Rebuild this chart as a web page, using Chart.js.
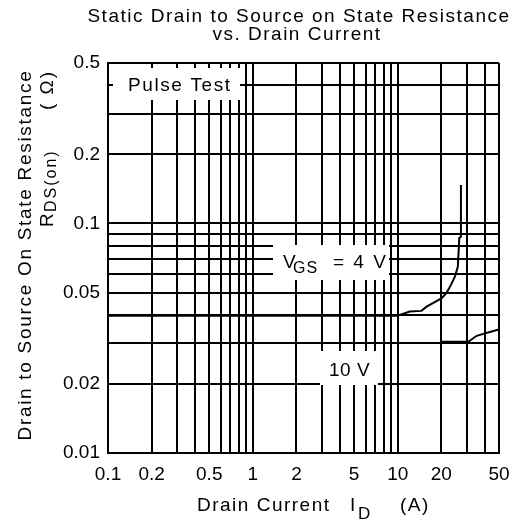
<!DOCTYPE html>
<html>
<head>
<meta charset="utf-8">
<script src="https://cdn.jsdelivr.net/npm/chart.js@4.4.1/dist/chart.umd.min.js"></script>
<style>
  html, body { margin: 0; padding: 0; background: #fff; }
</style>
</head>
<body>
<canvas id="chart" width="520" height="527"></canvas>
<script>
// grid lines (every 1..9 per decade) and the values that get a label
const currentGrid = [0.1, 0.2, 0.3, 0.4, 0.5, 0.6, 0.7, 0.8, 0.9, 1, 2, 3, 4, 5, 6, 7, 8, 9, 10, 20, 30, 40, 50];
const currentLabels = ['0.1', '0.2', '0.5', '1', '2', '5', '10', '20', '50'];
const resistanceGrid = [0.01, 0.02, 0.03, 0.04, 0.05, 0.06, 0.07, 0.08, 0.09, 0.1, 0.2, 0.3, 0.4, 0.5];
const resistanceLabels = ['0.01', '0.02', '0.05', '0.1', '0.2', '0.5'];

// VGS = 4 V
const vgs4Current = [0.1, 10, 12.1, 14.6, 15.8, 17.5, 20.1, 21.7, 23.3, 24.8, 26.0, 26.6, 27.3, 27.3];
const vgs4Resistance = [0.0396, 0.0396, 0.0413, 0.0416, 0.0434, 0.045, 0.0473, 0.0498, 0.054, 0.0587, 0.0648, 0.0865, 0.0875, 0.147];

// VGS = 10 V
const vgs10Current = [20.1, 30.7, 35.1, 40, 44.5, 50];
const vgs10Resistance = [0.0305, 0.0305, 0.0324, 0.0332, 0.0338, 0.0345];

const FONT = '"Liberation Sans", Arial, Helvetica, sans-serif';
const INK = '#000';

const toPoints = (xs, ys) => xs.map((x, i) => ({ x, y: ys[i] }));

function put(ctx, text, x, y, size, spacing = 0, align = 'left') {
  ctx.font = `${size}px ${FONT}`;
  ctx.letterSpacing = `${spacing}px`;
  ctx.textAlign = align;
  ctx.fillText(text, x, y);
  return x + ctx.measureText(text).width;
}

function whiteBox(ctx, x1, y1, x2, y2) {
  ctx.fillStyle = '#fff';
  ctx.fillRect(x1, y1, x2 - x1, y2 - y1);
  ctx.fillStyle = INK;
}

const sheetText = {
  id: 'sheetText',
  afterDraw(chart) {
    const { ctx } = chart;
    ctx.save();
    ctx.fillStyle = INK;
    ctx.textBaseline = 'alphabetic';

    // title
    put(ctx, 'Static Drain to Source on State Resistance', 299, 22, 19, 1.5, 'center');
    put(ctx, 'vs. Drain Current', 297, 40, 19, 1.5, 'center');

    // x axis title
    put(ctx, 'Drain Current', 197, 511, 19, 1.5);
    put(ctx, 'I', 350, 511, 19);
    put(ctx, 'D', 358, 519, 17);
    put(ctx, '(A)', 400, 511, 19, 1.5);

    // y axis title, two rotated lines
    ctx.save();
    ctx.translate(31, 255);
    ctx.rotate(-Math.PI / 2);
    put(ctx, 'Drain to Source On State Resistance', 0, 0, 19, 1.7, 'center');
    ctx.restore();

    ctx.save();
    ctx.translate(53, 227);
    ctx.rotate(-Math.PI / 2);
    put(ctx, 'R', 0, 0, 19);
    put(ctx, 'DS(on)', 15, 3, 16, 2);
    put(ctx, '( \u03A9)', 117, 0, 19, 2);
    ctx.restore();

    // annotations with blanked grid behind them
    whiteBox(ctx, 113, 68, 240, 100);
    put(ctx, 'Pulse Test', 128, 91, 19, 1.6);

    whiteBox(ctx, 273, 245, 389, 280);
    put(ctx, 'V', 283, 268, 19);
    put(ctx, 'GS', 293, 273, 16, 1);
    put(ctx, '= 4 V', 333, 268, 19, 2);

    whiteBox(ctx, 320, 351, 378, 385);
    put(ctx, '10 V', 329, 376, 19, 0.5);

    ctx.restore();
  }
};

const axisBase = {
  type: 'logarithmic',
  border: { display: true, color: INK, width: 2 },
  grid: { color: INK, lineWidth: 2, drawTicks: false },
};

new Chart(document.getElementById('chart'), {
  type: 'line',
  data: {
    datasets: [
      {
        label: 'VGS = 4 V',
        data: toPoints(vgs4Current, vgs4Resistance),
        borderColor: INK,
        borderWidth: 2,
        pointRadius: 0,
        tension: 0,
      },
      {
        label: 'VGS = 10 V',
        data: toPoints(vgs10Current, vgs10Resistance),
        borderColor: INK,
        borderWidth: 2,
        pointRadius: 0,
        tension: 0,
      },
    ],
  },
  options: {
    responsive: false,
    animation: false,
    events: [],
    layout: { padding: { top: 63, right: 21, left: 0, bottom: 0 } },
    plugins: { legend: { display: false }, tooltip: { enabled: false }, title: { display: false } },
    scales: {
      x: {
        ...axisBase,
        min: 0.1,
        max: 50,
        afterBuildTicks: scale => { scale.ticks = currentGrid.map(value => ({ value })); },
        afterFit: scale => { scale.height = 74; },
        ticks: {
          autoSkip: false,
          maxRotation: 0,
          padding: 10,
          color: INK,
          font: { family: FONT, size: 19 },
          callback: value => (currentLabels.includes(String(value)) ? String(value) : ''),
        },
      },
      y: {
        ...axisBase,
        min: 0.01,
        max: 0.5,
        afterBuildTicks: scale => { scale.ticks = resistanceGrid.map(value => ({ value })); },
        afterFit: scale => { scale.width = 108; },
        ticks: {
          autoSkip: false,
          padding: 8,
          color: INK,
          font: { family: FONT, size: 19 },
          callback: value => (resistanceLabels.includes(String(value)) ? String(value) : ''),
        },
      },
    },
  },
  plugins: [sheetText],
});
</script>
</body>
</html>
